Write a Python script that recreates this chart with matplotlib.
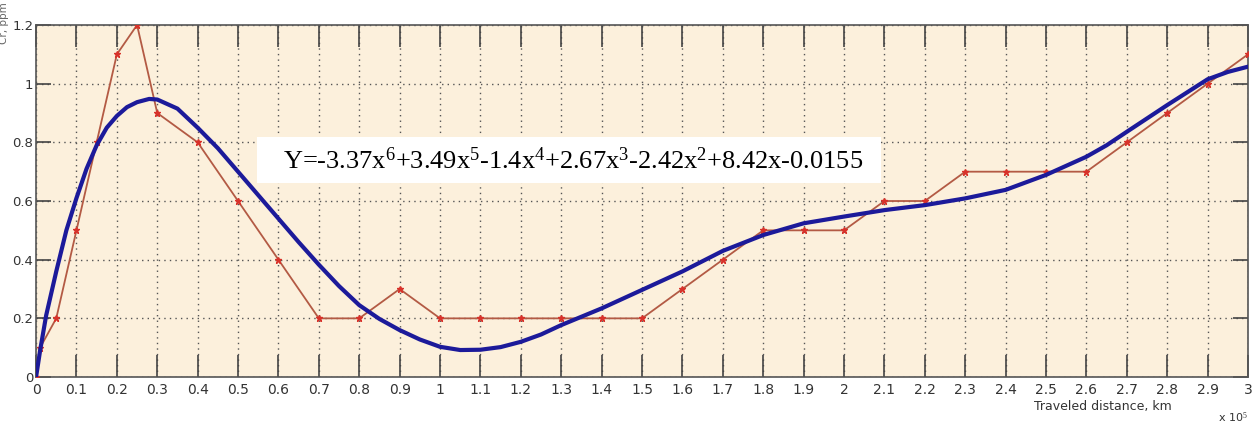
import numpy as np
import matplotlib
matplotlib.use('Agg')
import matplotlib.pyplot as plt
from matplotlib.patches import Rectangle

plt.rcParams['mathtext.fontset'] = 'custom'
plt.rcParams['mathtext.rm'] = 'Liberation Serif'
plt.rcParams['mathtext.it'] = 'Liberation Serif'

# measured concentration (x in 1e5 units)
dist_meas = [0, 0.01, 0.05, 0.1, 0.15, 0.2, 0.25, 0.3, 0.4, 0.5, 0.6, 0.7, 0.8, 0.9,
             1.0, 1.1, 1.2, 1.3, 1.4, 1.5, 1.6, 1.7, 1.8, 1.9, 2.0, 2.1, 2.2, 2.3,
             2.4, 2.5, 2.6, 2.7, 2.8, 2.9, 3.0]
cr_meas = [0, 0.1, 0.2, 0.5, 0.8, 1.1, 1.2, 0.9, 0.8, 0.6, 0.4, 0.2, 0.2, 0.3,
           0.2, 0.2, 0.2, 0.2, 0.2, 0.2, 0.3, 0.4, 0.5, 0.5, 0.5, 0.6, 0.6, 0.7,
           0.7, 0.7, 0.7, 0.8, 0.9, 1.0, 1.1]

# fitted curve
dist_fit = [0, 0.01, 0.025, 0.05, 0.075, 0.1, 0.125, 0.15, 0.175, 0.2, 0.225, 0.25,
            0.28, 0.3, 0.35, 0.4, 0.45, 0.5, 0.55, 0.6, 0.65, 0.7, 0.75, 0.8, 0.85,
            0.9, 0.95, 1.0, 1.05, 1.1, 1.15, 1.2, 1.25, 1.3, 1.4, 1.5, 1.6, 1.7,
            1.8, 1.9, 2.0, 2.1, 2.2, 2.3, 2.4, 2.5, 2.55, 2.6, 2.65, 2.7, 2.8, 2.9,
            2.95, 3.0]
cr_fit = [0, 0.09, 0.21, 0.36, 0.50, 0.61, 0.71, 0.79, 0.85, 0.89, 0.92, 0.937,
          0.948, 0.946, 0.915, 0.85, 0.78, 0.70, 0.62, 0.54, 0.46, 0.383, 0.31,
          0.245, 0.198, 0.16, 0.128, 0.103, 0.092, 0.093, 0.102, 0.12, 0.145,
          0.177, 0.234, 0.297, 0.36, 0.43, 0.484, 0.524, 0.547, 0.569, 0.586,
          0.609, 0.638, 0.689, 0.72, 0.751, 0.79, 0.836, 0.927, 1.015, 1.04, 1.058]

equation = (r'Y=-3.37x$^6$+3.49x$^5$-1.4x$^4$+2.67x$^3$-2.42x$^2$+8.42x-0.0155')

tick_font = ['Liberation Sans Narrow', 'DejaVu Sans']

fig = plt.figure(figsize=(12.52, 4.24), dpi=100)
ax = fig.add_axes([0.0288, 0.1108, 0.968, 0.8302])
ax.set_facecolor('#fcf0dc')

ax.plot(dist_meas, cr_meas, color='#b35a44', lw=1.3, marker='*', ms=5,
        mfc='#d8322a', mec='#d8322a', zorder=3)
ax.plot(dist_fit, cr_fit, color='#1c1a9a', lw=3, zorder=4, solid_joinstyle='round')

ax.set_xlim(0, 3)
ax.set_ylim(0, 1.2)
ax.set_xticks(np.arange(0, 3.01, 0.1))
ax.set_xticklabels(['0'] + ['%g' % round(v, 1) for v in np.arange(0.1, 3.01, 0.1)])
ax.set_yticks(np.arange(0, 1.21, 0.2))
ax.set_yticklabels(['0', '0.2', '0.4', '0.6', '0.8', '1', '1.2'])

ax.grid(True, linestyle=(0, (1, 3)), color='#555555', lw=1)
ax.tick_params(axis='x', direction='in', length=16, width=1.2, color='#444444',
               top=True, labelsize=10, labelcolor='#333333', pad=4)
ax.tick_params(axis='y', direction='in', length=11, width=1.2, color='#444444',
               right=True, labelsize=9.5, labelcolor='#333333', pad=2)
for lab in ax.get_xticklabels() + ax.get_yticklabels():
    lab.set_family(tick_font)
for s in ax.spines.values():
    s.set_color('#555555')
    s.set_linewidth(1.2)

# y label sits above the top-left corner like in the matlab export
ax.text(-0.0265, 1.065, 'Cr, ppm', transform=ax.transAxes, rotation=90,
        ha='center', va='top', family=tick_font, fontsize=7.5, color='#666666')
ax.text(0.88, -0.085, 'Traveled distance, km', transform=ax.transAxes,
        ha='center', va='center', family=tick_font, fontsize=9, color='#333333')
ax.text(1.0, -0.115, r'x 10$^5$', transform=ax.transAxes, ha='right', va='center',
        family=tick_font, fontsize=8, color='#333333')

ax.add_patch(Rectangle((0.1823, 0.551), 0.515, 0.131, transform=ax.transAxes,
                       fc='white', ec='none', zorder=5))
ax.text(0.204, 0.614, equation, transform=ax.transAxes, ha='left', va='center',
        family='Liberation Serif', fontsize=19, color='black', zorder=6)

fig.savefig('out.png', dpi=100)
